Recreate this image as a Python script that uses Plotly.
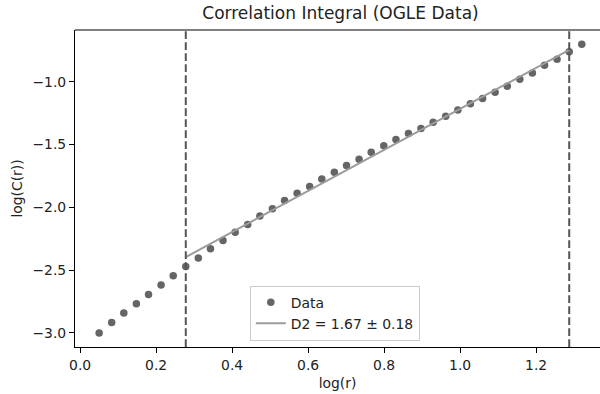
import plotly.graph_objects as go

log_r = [0.050, 0.083, 0.115, 0.148, 0.180, 0.213, 0.245, 0.278, 0.311, 0.343,
         0.376, 0.408, 0.441, 0.473, 0.506, 0.538, 0.571, 0.604, 0.636, 0.669,
         0.701, 0.734, 0.766, 0.799, 0.831, 0.864, 0.897, 0.929, 0.962, 0.994,
         1.027, 1.059, 1.092, 1.124, 1.157, 1.190, 1.222, 1.255, 1.287, 1.320]
log_c = [-3.002, -2.918, -2.843, -2.769, -2.695, -2.620, -2.546, -2.472, -2.405, -2.331,
         -2.264, -2.198, -2.137, -2.070, -2.012, -1.946, -1.887, -1.834, -1.775, -1.720,
         -1.667, -1.616, -1.560, -1.510, -1.460, -1.412, -1.372, -1.321, -1.273, -1.223,
         -1.175, -1.133, -1.082, -1.034, -0.978, -0.928, -0.867, -0.819, -0.759, -0.700]
fit_x = [0.278, 1.287]
fit_y = [-2.397, -0.745]
bounds = [0.278, 1.287]
fit_label = "D2 = 1.67 ± 0.18"
x_ticks = [0.0, 0.2, 0.4, 0.6, 0.8, 1.0, 1.2]
y_ticks = [-3.0, -2.5, -2.0, -1.5, -1.0]

FONT = "DejaVu Sans"
fig = go.Figure()
fig.add_trace(go.Scatter(x=log_r, y=log_c, mode="markers", name="Data",
                         marker=dict(color="#656565", size=7.5, line=dict(width=0))))
fig.add_trace(go.Scatter(x=fit_x, y=fit_y, mode="lines", name=fit_label,
                         line=dict(color="#9c9c9c", width=2)))
for b in bounds:
    fig.add_shape(type="line", xref="x", yref="paper", x0=b, x1=b, y0=0, y1=1,
                  line=dict(color="#555555", width=2, dash="7.7px,3.3px"))

axis_common = dict(showgrid=False, zeroline=False, showline=True, linecolor="black",
                   linewidth=1.1, ticks="outside", ticklen=5, tickwidth=1.1,
                   tickcolor="black", tickfont=dict(family=FONT, size=13.9, color="#222222"))
fig.update_xaxes(range=[-0.0135, 1.368], tickvals=x_ticks,
                 ticktext=[f"{v:.1f}" for v in x_ticks], mirror=False,
                 title=dict(text="log(r)", font=dict(family=FONT, size=13.9, color="#222222"), standoff=6),
                 **axis_common)
fig.update_yaxes(range=[-3.114, -0.586], tickvals=y_ticks,
                 ticktext=[f"{v:.1f}".replace("-", "\u2212") for v in y_ticks],
                 title=dict(text="log(C(r))", font=dict(family=FONT, size=13.9, color="#222222"), standoff=6),
                 **axis_common)
# top spine
fig.add_shape(type="line", xref="paper", yref="paper", x0=0, x1=1, y0=1, y1=1,
              line=dict(color="black", width=1.1))

fig.update_layout(
    width=600, height=394,
    margin=dict(l=75, r=0, t=30, b=47),
    paper_bgcolor="white", plot_bgcolor="white",
    font=dict(family=FONT, size=13.9, color="#222222"),
    title=dict(text="Correlation Integral (OGLE Data)", x=0.5057, xanchor="center",
               xref="paper", y=0.952, yref="container", yanchor="bottom",
               font=dict(family=FONT, size=17, color="#222222")),
    showlegend=True,
    legend=dict(x=0.333, y=0.02, xanchor="left", yanchor="bottom",
                bgcolor="rgba(255,255,255,0.8)", bordercolor="#cccccc", borderwidth=1,
                font=dict(family=FONT, size=13.9, color="#222222"),
                itemwidth=30, tracegroupgap=0),
)
fig.write_html("out.html")
